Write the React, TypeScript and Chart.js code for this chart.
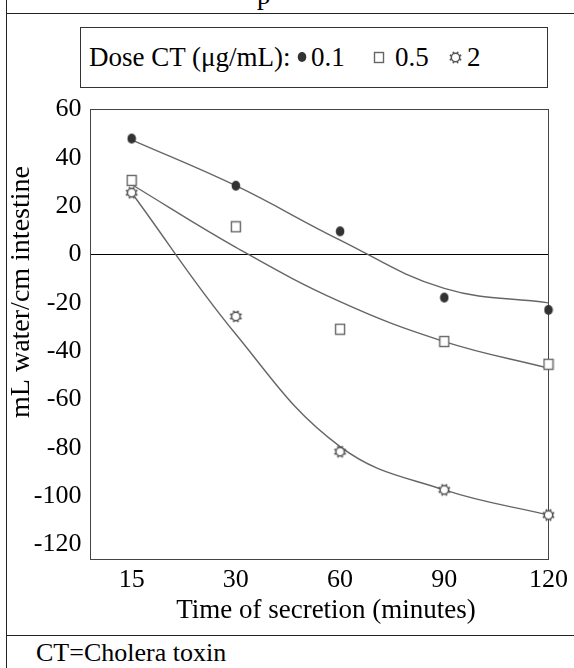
import React, { useEffect, useRef } from "react";
import { Chart, registerables } from "chart.js";

Chart.register(...registerables);

// ---------- data ----------
const categories = ["15", "30", "60", "90", "120"];
const xIndex = [0, 1, 2, 3, 4];
const dose01Points = [48, 28.5, 9.6, -17.8, -22.9];
const dose05Points = [30.7, 11.5, -30.9, -36, -45.4];
const dose2Points = [25.6, -25.6, -81.6, -97.4, -107.8];
const dose01Fit = [47.5, 28.5, 6, -14, -20];
const dose05Fit = [29, 3, -19.5, -36, -47];
const dose2Fit = [25.6, -33, -79.5, -97.4, -107.8];
const yTickValues = [-120, -100, -80, -60, -40, -20, 0, 20, 40, 60];
const legendTitle = "Dose CT (μg/mL):";
const legendLabels = ["0.1", "0.5", "2"];
const xTitle = "Time of secretion (minutes)";
const yTitle = "mL water/cm intestine";
const footnote = "CT=Cholera toxin";
const headerFragment = "p";

// ---------- layout / style ----------
const FONT = "'Liberation Serif', 'Times New Roman', Times, serif";
const CANVAS_LEFT = 6;
const CANVAS_TOP = 85;
const CANVAS_W = 568;
const CANVAS_H = 550;
const LINE = "#222";

type MarkerKind = "dot" | "square" | "sun";
const MARKER_SIZE: Record<MarkerKind, [number, number]> = {
  dot: [10, 12],
  square: [12, 13],
  sun: [15, 15],
};

function drawMarker(kind: MarkerKind, c: HTMLCanvasElement) {
  const [w, h] = MARKER_SIZE[kind];
  c.width = w;
  c.height = h;
  const g = c.getContext("2d")!;
  g.clearRect(0, 0, w, h);
  if (kind === "dot") {
    g.fillStyle = "#333";
    g.beginPath();
    g.ellipse(w / 2, h / 2, 4.3, 5, 0, 0, Math.PI * 2);
    g.fill();
  } else if (kind === "square") {
    g.fillStyle = "#fff";
    g.fillRect(1, 1, 10, 11);
    g.strokeStyle = "#666";
    g.lineWidth = 1.4;
    g.strokeRect(1.5, 1.5, 9, 10);
  } else {
    const cx = w / 2;
    const cy = h / 2;
    g.strokeStyle = "#555";
    g.fillStyle = "#fff";
    g.lineWidth = 1.5;
    g.beginPath();
    g.arc(cx, cy, 4.2, 0, Math.PI * 2);
    g.fill();
    g.stroke();
    g.lineWidth = 1.7;
    for (let i = 0; i < 8; i++) {
      const a = (i * Math.PI) / 4 + Math.PI / 8;
      g.beginPath();
      g.moveTo(cx + Math.cos(a) * 4.6, cy + Math.sin(a) * 4.6);
      g.lineTo(cx + Math.cos(a) * 6.2, cy + Math.sin(a) * 6.2);
      g.stroke();
    }
  }
  return c;
}

function makeMarker(kind: MarkerKind): HTMLCanvasElement {
  return drawMarker(kind, document.createElement("canvas"));
}

function LegendMarker({ kind, cx, cy }: { kind: MarkerKind; cx: number; cy: number }) {
  const ref = useRef<HTMLCanvasElement | null>(null);
  const [w, h] = MARKER_SIZE[kind];
  useEffect(() => {
    if (ref.current) drawMarker(kind, ref.current);
  }, [kind]);
  return (
    <canvas
      ref={ref}
      width={w}
      height={h}
      style={{ position: "absolute", left: cx - w / 2, top: cy - h / 2, width: w, height: h }}
    />
  );
}

export default function App() {
  const canvasRef = useRef<HTMLCanvasElement | null>(null);

  useEffect(() => {
    const canvas = canvasRef.current;
    if (!canvas) return;
    const dot = makeMarker("dot");
    const sq = makeMarker("square");
    const sun = makeMarker("sun");
    const toXY = (vals: number[]) => vals.map((y, i) => ({ x: xIndex[i], y }));

    const fitDs = (vals: number[], label: string) => ({
      label,
      data: toXY(vals),
      showLine: true,
      borderColor: "#666",
      borderWidth: 1.4,
      pointRadius: 0,
      tension: 0.4,
      fill: false,
      order: 2,
      clip: false as const,
    });
    const markDs = (img: HTMLCanvasElement, vals: number[], label: string) => ({
      label,
      data: toXY(vals),
      showLine: false,
      pointStyle: img,
      pointRadius: 6,
      order: 1,
      clip: false as const,
    });

    const framePlugin = {
      id: "frameAndTitles",
      beforeDatasetsDraw(chart: any) {
        const { ctx, chartArea } = chart;
        const x0 = Math.floor(chartArea.left) + 0.5;
        const y0 = Math.floor(chartArea.top) + 0.5;
        const x1 = Math.floor(chartArea.right) + 0.5;
        const y1 = Math.floor(chartArea.bottom) + 0.5;
        ctx.save();
        ctx.strokeStyle = "#444";
        ctx.lineWidth = 1;
        ctx.strokeRect(x0, y0, x1 - x0, y1 - y0);
        ctx.restore();
      },
      afterDraw(chart: any) {
        const { ctx } = chart;
        ctx.save();
        ctx.fillStyle = "#000";
        ctx.font = `27px ${FONT}`;
        ctx.textAlign = "center";
        ctx.textBaseline = "middle";
        ctx.fillText(xTitle, 326 - CANVAS_LEFT, 611 - CANVAS_TOP);
        ctx.font = `28px ${FONT}`;
        ctx.translate(22 - CANVAS_LEFT, 292 - CANVAS_TOP);
        ctx.rotate(-Math.PI / 2);
        ctx.fillText(yTitle, 0, 0);
        ctx.restore();
      },
    };

    const tickFont = { family: FONT, size: 26 };

    const chart = new Chart(canvas, {
      type: "scatter",
      data: {
        datasets: [
          markDs(dot, dose01Points, legendLabels[0]),
          markDs(sq, dose05Points, legendLabels[1]),
          markDs(sun, dose2Points, legendLabels[2]),
          fitDs(dose01Fit, "fit " + legendLabels[0]),
          fitDs(dose05Fit, "fit " + legendLabels[1]),
          fitDs(dose2Fit, "fit " + legendLabels[2]),
        ] as any,
      },
      options: {
        animation: false,
        responsive: false,
        events: [],
        layout: { padding: { left: 0, top: 0, right: 21.3, bottom: 36 } },
        plugins: {
          legend: { display: false },
          tooltip: { enabled: false },
          title: { display: false },
        },
        scales: {
          x: {
            type: "linear",
            min: -0.395,
            max: 4,
            afterBuildTicks: (s: any) => {
              s.ticks = xIndex.map((v) => ({ value: v }));
            },
            afterFit: (s: any) => {
              s.height = 40;
            },
            grid: { display: false, drawTicks: false },
            border: { display: false },
            ticks: {
              font: tickFont,
              color: "#000",
              padding: 6,
              maxRotation: 0,
              autoSkip: false,
              callback: (v: any) => {
                const i = xIndex.indexOf(Number(v));
                return i >= 0 ? categories[i] : "";
              },
            },
          },
          y: {
            type: "linear",
            min: -126,
            max: 60,
            afterBuildTicks: (s: any) => {
              s.ticks = yTickValues.map((v) => ({ value: v }));
            },
            afterFit: (s: any) => {
              s.width = 84.5;
            },
            grid: {
              drawTicks: false,
              lineWidth: 1,
              color: (c: any) => (c.tick && c.tick.value === 0 ? "#000" : "rgba(0,0,0,0)"),
            },
            border: { display: false },
            ticks: { font: tickFont, color: "#000", padding: 9 },
          },
        },
      },
      plugins: [framePlugin],
    });
    return () => chart.destroy();
  }, []);

  const textBase: React.CSSProperties = {
    position: "absolute",
    fontFamily: FONT,
    whiteSpace: "nowrap",
    color: "#000",
  };
  const legendText: React.CSSProperties = {
    ...textBase,
    top: 28,
    height: 59,
    fontSize: 27,
    lineHeight: "59px",
  };

  return (
    <div
      style={{
        position: "fixed",
        left: 0,
        top: 0,
        width: 574,
        height: 668,
        overflow: "hidden",
        background: "#fff",
        fontFamily: FONT,
      }}
    >
      {/* header fragment (cut-off title) */}
      <div style={{ ...textBase, left: 257, top: -17.6, fontSize: 27, lineHeight: "27px" }}>
        {headerFragment}
      </div>
      {/* outer frame lines */}
      <div style={{ position: "absolute", left: 6, top: 0, width: 1, height: 668, background: LINE }} />
      <div style={{ position: "absolute", left: 6, top: 13, width: 568, height: 1, background: LINE }} />
      <div style={{ position: "absolute", left: 6, top: 635, width: 568, height: 1, background: LINE }} />

      {/* legend */}
      <div
        style={{
          position: "absolute",
          left: 80,
          top: 27,
          width: 468,
          height: 61,
          boxSizing: "border-box",
          border: "1px solid #333",
        }}
      />
      <div style={{ ...legendText, left: 89 }}>{legendTitle}</div>
      <LegendMarker kind="dot" cx={301.5} cy={57} />
      <div style={{ ...legendText, left: 311 }}>{legendLabels[0]}</div>
      <LegendMarker kind="square" cx={378.5} cy={57.5} />
      <div style={{ ...legendText, left: 395 }}>{legendLabels[1]}</div>
      <LegendMarker kind="sun" cx={455} cy={57.5} />
      <div style={{ ...legendText, left: 467 }}>{legendLabels[2]}</div>

      {/* chart */}
      <canvas
        ref={canvasRef}
        width={CANVAS_W}
        height={CANVAS_H}
        style={{ position: "absolute", left: CANVAS_LEFT, top: CANVAS_TOP, width: CANVAS_W, height: CANVAS_H }}
      />

      {/* footnote */}
      <div style={{ ...textBase, left: 36, top: 640, fontSize: 26, lineHeight: "26px" }}>{footnote}</div>
    </div>
  );
}
